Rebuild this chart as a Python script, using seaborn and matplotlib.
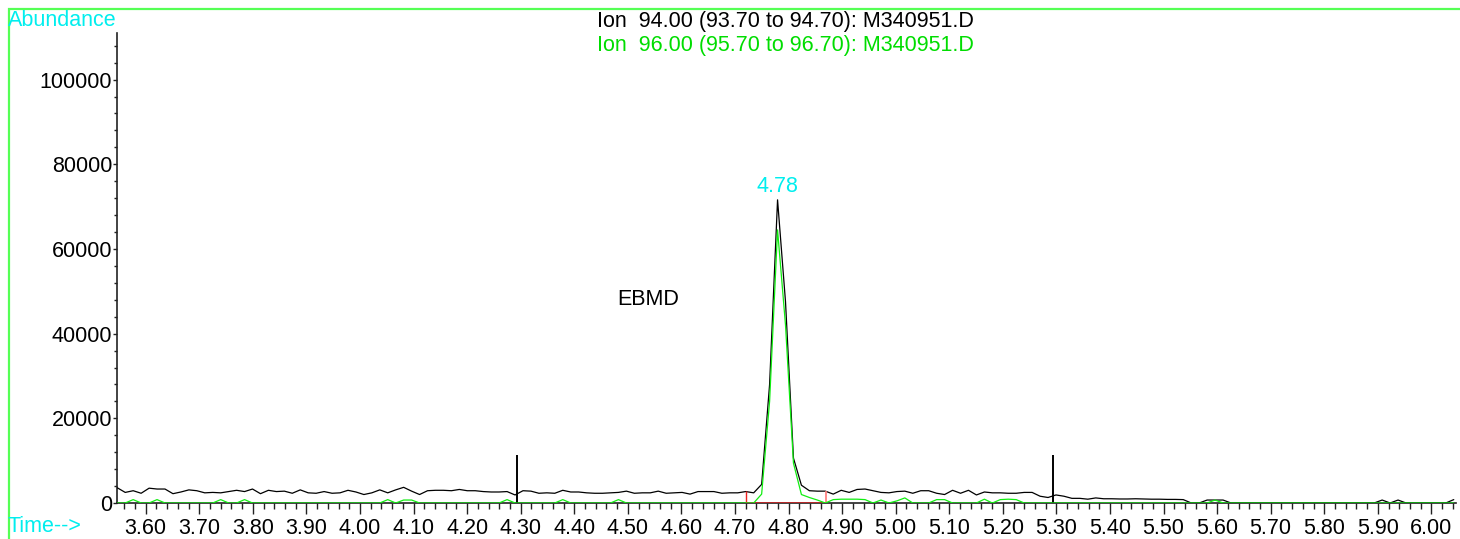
import numpy as np
import matplotlib
matplotlib.use("Agg")
import matplotlib.pyplot as plt
from matplotlib.ticker import MultipleLocator, FuncFormatter
from matplotlib.patches import Rectangle
import seaborn as sns

# scan grid of the run (minutes)
scan_start = 3.547
scan_interval = 0.01485

# Ion 94 abundances, one value per scan
ion94 = [
    3600, 2500, 2900, 2300, 3500, 3300, 3300, 2200, 2600, 3100,
    2900, 2400, 2500, 2400, 2700, 3000, 2700, 3300, 2200, 3000,
    2700, 2800, 2300, 3100, 2400, 2300, 2700, 2300, 2400, 3000,
    2600, 2000, 2400, 3100, 2400, 3100, 3700, 2800, 2000, 2900,
    3000, 3000, 2900, 3200, 2900, 2900, 2700, 2600, 2600, 2700,
    1900, 2900, 2800, 2300, 2400, 2300, 3000, 2600, 2600, 2400,
    2300, 2300, 2400, 2500, 2800, 2300, 2400, 2400, 2800, 2300,
    2400, 2500, 2100, 2700, 2700, 2700, 2300, 2400, 2400, 2700,
    2400, 4400, 28000, 71600, 47500, 10600, 4200, 2900, 2800, 2800,
    2100, 3000, 2500, 3200, 3300, 2900, 2500, 2400, 2700, 2800,
    2300, 2900, 2900, 2300, 2000, 3000, 2300, 3000, 1900, 2600,
    2400, 2400, 2300, 2300, 2500, 2500, 1600, 1300, 1900, 1600,
    1100, 1100, 900, 1200, 1000, 1000, 950, 950, 1000, 950,
    900, 900, 850, 850, 800, 0, 0, 700, 700, 700,
    0, 0, 0, 0, 0, 0, 0, 0, 0, 0,
    0, 0, 0, 0, 0, 0, 0, 0, 0, 700,
    0, 700, 0, 0, 0, 0, 0, 0, 800,
]

# Ion 96 abundances
ion96 = [
    0, 0, 800, 0, 0, 800, 0, 0, 0, 0,
    0, 0, 0, 800, 0, 0, 800, 0, 0, 0,
    0, 0, 0, 0, 0, 0, 0, 0, 0, 0,
    0, 0, 0, 0, 800, 0, 700, 700, 0, 0,
    0, 0, 0, 0, 0, 0, 0, 0, 0, 800,
    0, 0, 0, 0, 0, 0, 800, 0, 0, 0,
    0, 0, 0, 800, 0, 0, 0, 0, 0, 0,
    0, 0, 0, 0, 0, 0, 0, 0, 0, 0,
    0, 2100, 24000, 64500, 42000, 9400, 2000, 1300, 700, 0,
    800, 900, 900, 900, 800, 0, 700, 0, 500, 1200,
    0, 0, 0, 800, 800, 0, 0, 0, 0, 900,
    0, 800, 900, 800, 0, 0, 0, 0, 0, 0,
    0, 0, 0, 0, 0, 0, 0, 0, 0, 0,
    0, 0, 0, 0, 0, 0, 0, 0, 700, 0,
    0, 0, 0, 0, 0, 0, 0, 0, 0, 0,
    0, 0, 0, 0, 0, 0, 0, 0, 0, 0,
    0, 0, 0, 0, 0, 0, 0, 0, 0,
]

spike_times = [4.294, 5.294]
spike_height = 11400
integ_start, integ_end = 4.7205, 4.870
integ_level = 2900
peak_rt = 4.78
peak_top = 71600

sns.set_theme(style="ticks")
plt.rcParams['font.family'] = ['Liberation Sans', 'DejaVu Sans']
FS = 15.5

time = scan_start + scan_interval * np.arange(len(ion94))

fig = plt.figure(figsize=(14.6, 5.39), dpi=100)
ax = fig.add_axes([117 / 1460, 1 - 503 / 539, (1456 - 117) / 1460, (503 - 33) / 539])

sns.lineplot(x=time, y=ion94, ax=ax, color="black", linewidth=0.9, zorder=3)
ax.vlines(spike_times, 0, spike_height, color="black", linewidth=1.4, zorder=4)

# integration markers
ax.plot([integ_start, integ_end], [0, 0], color="#cc2222", linewidth=1.2, zorder=4)
ax.vlines([integ_start], 0, integ_level, color="#ee2222", linewidth=1.0, zorder=4)
ax.vlines([integ_end], 0, integ_level, color="#ff7777", linewidth=1.2, zorder=4)

sns.lineplot(x=time, y=ion96, ax=ax, color="#11ee11", linewidth=0.9, zorder=5)

ax.set_xlim(3.5465, 6.046)
ax.set_ylim(0, 111000)
ax.xaxis.set_major_locator(MultipleLocator(0.1))
ax.xaxis.set_minor_locator(MultipleLocator(0.02))
ax.yaxis.set_major_locator(MultipleLocator(20000))
ax.yaxis.set_minor_locator(MultipleLocator(4000))
ax.xaxis.set_major_formatter(FuncFormatter(lambda v, p: f"{v:.2f}"))
ax.yaxis.set_major_formatter(FuncFormatter(lambda v, p: f"{int(round(v))}"))

for s in ["top", "right"]:
    ax.spines[s].set_visible(False)
for s in ["left", "bottom"]:
    ax.spines[s].set_color("#222222")
    ax.spines[s].set_linewidth(1.2)

ax.tick_params(axis="x", which="major", direction="out", length=8, width=1, color="#222222",
               labelsize=FS, pad=2.5, labelcolor="black")
ax.tick_params(axis="x", which="minor", direction="out", length=4.5, width=1, color="#222222")
ax.tick_params(axis="y", which="major", direction="out", length=3, width=1, color="#222222",
               labelsize=FS, pad=0.5, labelcolor="black")
ax.tick_params(axis="y", which="minor", direction="out", length=2.5, width=1, color="#222222")
ax.set_xlabel("")
ax.set_ylabel("")
ax.set_facecolor("white")
ax.grid(False)

ax.text(4.538, 48000, "EBMD", fontsize=FS, color="black", ha="center", va="center")
ax.annotate(f"{peak_rt:.2f}", xy=(peak_rt, peak_top), xytext=(0, 2), textcoords="offset points",
            ha="center", va="bottom", fontsize=FS, color="#00eeee")

fig.text(785 / 1460, 1 - 21 / 539, "Ion  94.00 (93.70 to 94.70): M340951.D",
         ha="center", va="center", fontsize=FS, color="black")
fig.text(785 / 1460, 1 - 45 / 539, "Ion  96.00 (95.70 to 96.70): M340951.D",
         ha="center", va="center", fontsize=FS, color="#00dd00")
fig.text(8 / 1460, 1 - 21 / 539, "Abundance", ha="left", va="center", fontsize=FS, color="#00eeee")
fig.text(8 / 1460, 1 - 527 / 539, "Time-->", ha="left", va="center", fontsize=FS, color="#00eeee")

fig.patches.append(Rectangle((8.5 / 1460, -0.02), 1.05, 1 - 8.5 / 539 + 0.02,
                             transform=fig.transFigure, fill=False,
                             edgecolor="#55ff55", linewidth=1.6, zorder=0))

fig.savefig("out.png", dpi=100, facecolor="white")
